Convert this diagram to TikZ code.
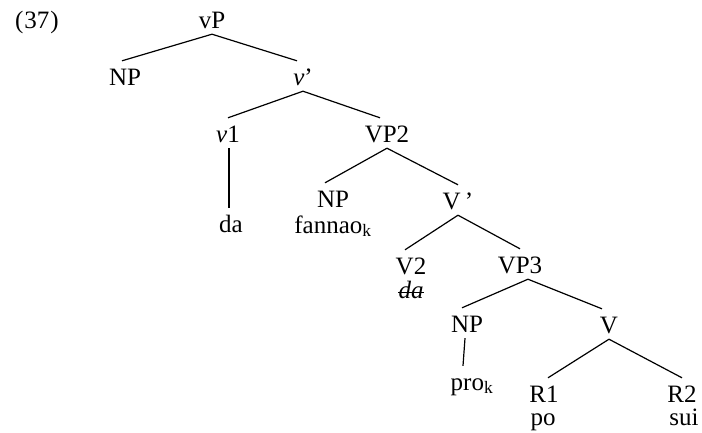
\documentclass[tikz,border=0pt]{standalone}
\usepackage{fontspec}
\setmainfont{Liberation Serif}
\begin{document}
\begin{tikzpicture}[x=1pt,y=-1pt,
  lab/.style={font=\fontsize{25}{28}\selectfont, inner sep=0pt, text height=24pt, text depth=6pt, anchor=base},
  edge/.style={line width=1.2pt}]
\useasboundingbox (0,0) rectangle (702,432);
% labels
\node[lab] (num) at (37,28) {(\kern1pt37\kern1pt)};
\node[lab] (vP) at (212,28) {vP};
\node[lab] (NP1) at (125,85) {NP};
\node[lab] (vbar) at (303,85) {\textit{v}’};
\node[lab] (v1) at (228,142) {\textit{v}1};
\node[lab] (da1) at (231,232) {da};
\node[lab] (VP2) at (387,142) {VP2};
\node[lab] (NP2) at (333,207) {NP};
\node[lab] (fan) at (333,233) {fannao\textsubscript{k}};
\node[lab] (Vbar) at (458,209) {V\,’};
\node[lab] (V2) at (411,274) {V2};
\node[lab] (da2) at (411,298) {\textit{da}};
\node[lab] (VP3) at (520,273) {VP3};
\node[lab] (NP3) at (467,332) {NP};
\node[lab] (pro) at (472,390) {pro\textsubscript{k}};
\node[lab] (V) at (609,333) {V};
\node[lab] (R1) at (544,402) {R1};
\node[lab] (po) at (543,425) {po};
\node[lab] (R2) at (682,402) {R2};
\node[lab] (sui) at (684,425) {sui};
% strike-through of the deleted copy
\draw[line width=0.9pt] ([yshift=6pt]da2.base west) -- ([yshift=6pt]da2.base east);
% branches
\draw[edge] (vP.south) -- ([xshift=-3pt]NP1.north);
\draw[edge] (vP.south) -- ([xshift=-6pt]vbar.north);
\draw[edge] (vbar.south) -- (v1.north);
\draw[edge] (vbar.south) -- ([xshift=-7pt]VP2.north);
\draw[edge] ([xshift=1pt]v1.south) -- ([xshift=-2pt]da1.north);
\draw[edge] (VP2.south) -- ([xshift=-8pt]NP2.north);
\draw[edge] (VP2.south) -- ([xshift=0pt]Vbar.north);
\draw[edge] (Vbar.south) -- ([xshift=-6pt]V2.north);
\draw[edge] (Vbar.south) -- ([xshift=0pt]VP3.north);
\draw[edge] ([xshift=8pt]VP3.south) -- ([xshift=-5pt]NP3.north);
\draw[edge] ([xshift=8pt]VP3.south) -- ([xshift=-7pt]V.north);
\draw[edge] ([xshift=-2pt]NP3.south) -- ([xshift=-9pt]pro.north);
\draw[edge] (V.south) -- ([xshift=4pt]R1.north);
\draw[edge] (V.south) -- (R2.north);
\end{tikzpicture}
\end{document}
